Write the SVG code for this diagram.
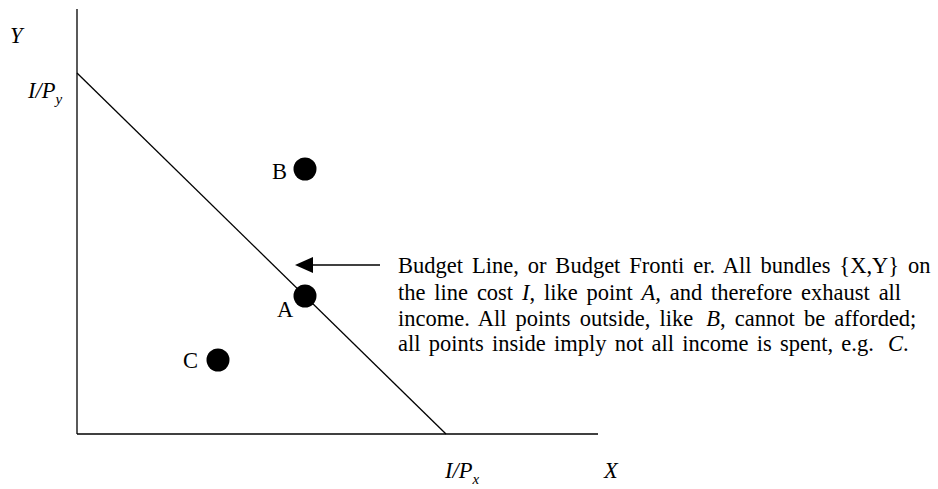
<svg xmlns="http://www.w3.org/2000/svg" width="938" height="489" viewBox="0 0 938 489">
<defs>
<style>
.t{font-family:"Liberation Serif","Times New Roman",serif;font-size:22.5px;fill:#000}
.i{font-style:italic}
.s{font-size:15px}
.ax{stroke:#000;stroke-width:1.3;fill:none}
.dot{fill:#000}
</style>
</defs>
<rect width="938" height="489" fill="#fff"/>
<g id="axes">
<line class="ax" x1="77" y1="9" x2="77" y2="434"/>
<line class="ax" x1="77" y1="434" x2="598" y2="434"/>
</g>
<g id="connectors">
<line class="ax" x1="77" y1="73" x2="446" y2="434"/>
<line stroke="#000" stroke-width="1.3" x1="380" y1="265" x2="313" y2="265"/>
<path d="M295,265 L313,257 L313,273 Z" fill="#000"/>
</g>
<g id="labels">
<text class="t i" x="10" y="43">Y</text>
<text class="t i" x="28" y="98">I/P<tspan class="s" dy="6">y</tspan></text>
<text class="t i" x="445" y="478">I/P<tspan class="s" dy="6">x</tspan></text>
<text class="t i" x="604" y="478">X</text>
</g>
<g id="pointB"><circle class="dot" cx="305" cy="169" r="11.5"/><text class="t" x="272" y="179">B</text></g>
<g id="pointA"><circle class="dot" cx="305" cy="296" r="11.5"/><text class="t" x="277" y="317">A</text></g>
<g id="pointC"><circle class="dot" cx="218" cy="360" r="11.5"/><text class="t" x="183" y="368">C</text></g>
<g id="note">
<text class="t" x="398" y="273" style="word-spacing:3.3px">Budget Line, or Budget Fronti er. All bundles {X,Y} on</text>
<text class="t" x="398" y="300" style="word-spacing:3.2px">the line cost <tspan class="i">I</tspan>, like point <tspan class="i">A,</tspan> and therefore exhaust all</text>
<text class="t" x="398" y="326" style="word-spacing:3.5px">income. All points outside, like <tspan class="i" dx="4">B</tspan>, cannot be afforded;</text>
<text class="t" x="398" y="351" style="word-spacing:2.6px">all points inside imply not all income is spent, e.g. <tspan class="i" dx="6">C</tspan>.</text>
</g>
</svg>
